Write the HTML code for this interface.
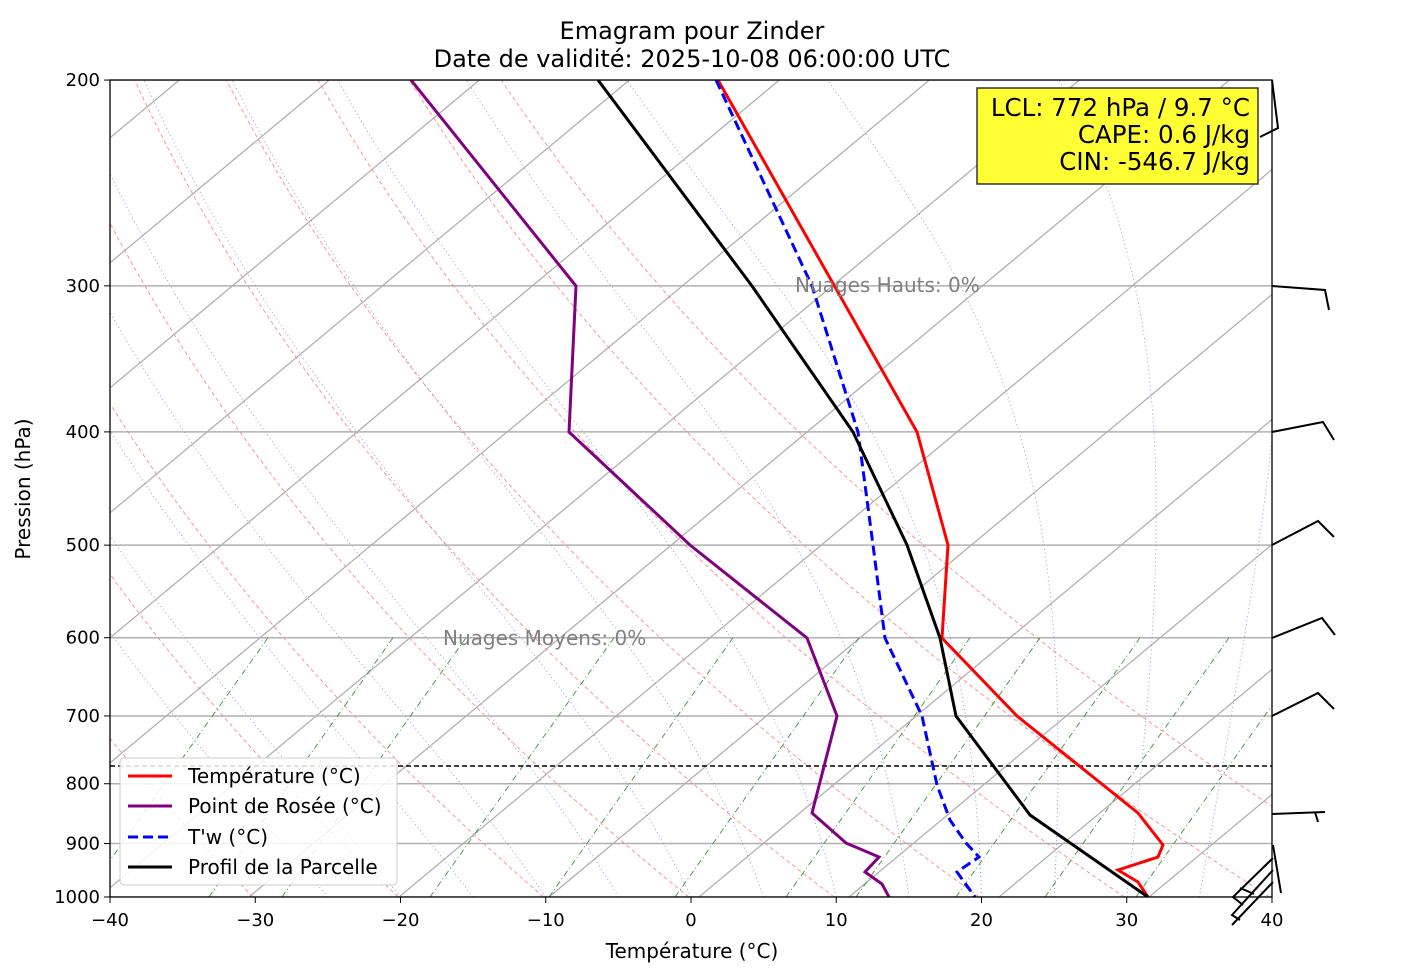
<!DOCTYPE html>
<html><head><meta charset="utf-8"><style>
body{margin:0;background:#fff;}
svg{display:block;font-family:"DejaVu Sans","Liberation Sans",sans-serif;}
</style></head><body>
<svg id="s" width="1404" height="978" xmlns="http://www.w3.org/2000/svg">
<defs><clipPath id="c"><rect x="110" y="80" width="1162" height="817"/></clipPath></defs>
<rect width="1404" height="978" fill="#fff"/>
<g id="bg" clip-path="url(#c)"></g>
<g id="fg" clip-path="url(#c)"></g>
<g id="ax"></g>
<text x="692" y="39" font-size="24" text-anchor="middle">Emagram pour Zinder</text>
<text x="692" y="67" font-size="24" text-anchor="middle">Date de validité: 2025-10-08 06:00:00 UTC</text>
<text x="692" y="958" font-size="20" text-anchor="middle">Température (°C)</text>
<text transform="translate(30,489) rotate(-90)" font-size="20" text-anchor="middle">Pression (hPa)</text>
<text x="795" y="292" font-size="20" fill="#808080">Nuages Hauts: 0%</text>
<text x="443" y="645" font-size="20" fill="#808080">Nuages Moyens: 0%</text>
<text x="318" y="771" font-size="16" fill="#bbb">LCL</text>
<rect x="977" y="88" width="281" height="96" fill="#ffff33" stroke="#333" stroke-width="1.5"/>
<text x="1250" y="116" font-size="24.5" text-anchor="end">LCL: 772 hPa / 9.7 °C</text>
<text x="1250" y="143" font-size="24.5" text-anchor="end">CAPE: 0.6 J/kg</text>
<text x="1250" y="170" font-size="24.5" text-anchor="end">CIN: -546.7 J/kg</text>
<g>
<rect x="120" y="758" width="277" height="127" rx="4" fill="#fff" fill-opacity="0.85" stroke="#ccc"/>
<line x1="128" x2="172" y1="776" y2="776" stroke="red" stroke-width="3"/>
<line x1="128" x2="172" y1="806" y2="806" stroke="purple" stroke-width="3"/>
<line x1="128" x2="172" y1="837" y2="837" stroke="blue" stroke-width="3" stroke-dasharray="10,5"/>
<line x1="128" x2="172" y1="867" y2="867" stroke="#000" stroke-width="3"/>
<text x="188" y="783" font-size="20">Température (°C)</text>
<text x="188" y="813" font-size="20">Point de Rosée (°C)</text>
<text x="188" y="844" font-size="20">T'w (°C)</text>
<text x="188" y="874" font-size="20">Profil de la Parcelle</text>
</g>
</svg>
<script>
const NS="http://www.w3.org/2000/svg";
function X(T){return 110+(T+40)*14.525;}
function Y(p){return 897-507.6*Math.log(1000/p);}
function SX(T,p,k){return X(T)+k*(897-Y(p));}
function el(g,tag,a){const e=document.createElementNS(NS,tag);for(const k in a)e.setAttribute(k,a[k]);document.getElementById(g).appendChild(e);return e;}
function pl(g,pts,st){el(g,'polyline',Object.assign({points:pts.map(p=>p.join(',')).join(' '),fill:'none'},st));}
[200,300,400,500,600,700,800,900,1000].forEach(p=>el('bg','line',{x1:110,x2:1272,y1:Y(p),y2:Y(p),stroke:'#b0b0b0','stroke-width':1.5}));
for(let x0=-951;x0<=1300;x0+=150){el('bg','line',{x1:x0,y1:897,x2:x0+1080,y2:-3,stroke:'#b0b0b0','stroke-width':1.3});}
for(let th=233;th<=323;th+=10){let pts=[];for(let p=1000;p>=195;p-=10){const T=th*Math.pow(p/1000,0.286)-273.15;pts.push([SX(T,p,1),Y(p)]);}pl('bg',pts,{stroke:'#f88','stroke-width':0.9,'stroke-dasharray':'4,3'});}
function es(T){return 6.112*Math.exp(17.67*T/(T+243.5));}
for(let T0=-25;T0<=40;T0+=5){let T=T0+273.15,p=1000,pts=[[SX(T0,p,1),Y(p)]];while(p>200){const rs=0.622*es(T-273.15)/(p-es(T-273.15));const L=2.5e6,R=287,cp=1004;const d=(R*T+L*rs)/(cp+L*L*rs*0.622/(R*T*T));const dp=-5;T+=d*dp/p;p+=dp;pts.push([SX(T-273.15,p,1),Y(p)]);}pl('bg',pts,{stroke:'#88f','stroke-width':0.9,'stroke-dasharray':'1,3'});}
[268,393,466,614,733,859,970,1040,1140,1229,1320].forEach(xt=>{el('bg','line',{x1:xt,y1:Y(600),x2:xt-184,y2:897,stroke:'#393','stroke-width':0.9,'stroke-dasharray':'6,3,1,3'});});
el('fg','line',{x1:110,x2:1272,y1:766,y2:766,stroke:'#000','stroke-width':1.5,'stroke-dasharray':'5,3'});
pl('fg',[[718,80],[917,432],[948,545],[942,638],[1017,716],[1138,813],[1163,845],[1158,857],[1118,870],[1138,882],[1148,897]],{stroke:'red','stroke-width':3});
pl('fg',[[411,80],[576,286],[569,432],[690,545],[807,638],[837,716],[812,813],[846,843],[879,857],[865,872],[882,884],[889,897]],{stroke:'purple','stroke-width':3});
pl('fg',[[716,80],[812,286],[858,432],[873,545],[885,638],[922,716],[937,785],[950,820],[966,843],[979,857],[957,872],[975,897]],{stroke:'blue','stroke-width':3,'stroke-dasharray':'10,5'});
pl('fg',[[598,80],[752,286],[853,432],[907,545],[940,638],[956,716],[1030,815],[1148,897]],{stroke:'#000','stroke-width':3});
el('ax','rect',{x:110,y:80,width:1162,height:817,fill:'none',stroke:'#000','stroke-width':1.3});
for(let T=-40;T<=40;T+=10){el('ax','line',{x1:X(T),x2:X(T),y1:897,y2:903,stroke:'#000'});const t=el('ax','text',{x:X(T),y:926,'font-size':18,'text-anchor':'middle'});t.textContent=(T<0?'\u2212'+(-T):T);}
[200,300,400,500,600,700,800,900,1000].forEach(p=>{el('ax','line',{x1:104,x2:110,y1:Y(p),y2:Y(p),stroke:'#000'});const t=el('ax','text',{x:100,y:Y(p)+6,'font-size':18,'text-anchor':'end'});t.textContent=p;});
const S={stroke:'#000','stroke-width':2,fill:'none'};
pl('ax',[[1272,80],[1278,128],[1260,137]],S);
pl('ax',[[1272,286],[1325,290],[1329,310]],S);
pl('ax',[[1272,432],[1323,422],[1334,440]],S);
pl('ax',[[1272,545],[1318,521],[1334,537]],S);
pl('ax',[[1272,638],[1322,618],[1335,635]],S);
pl('ax',[[1272,716],[1318,693],[1334,709]],S);
pl('ax',[[1272,814],[1325,812]],S);pl('ax',[[1315,812],[1318,822]],S);
pl('ax',[[1273,845],[1281,893]],S);
pl('ax',[[1273,858],[1233,897],[1243,905]],S);
pl('ax',[[1273,870],[1232,915],[1240,920]],S);
pl('ax',[[1273,882],[1232,925]],S);
pl('ax',[[1240,888],[1254,894]],S);
</script>
</body></html>
